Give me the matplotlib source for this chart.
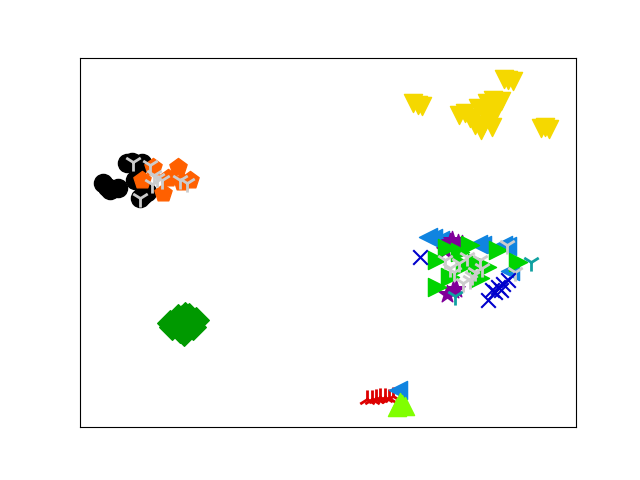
import matplotlib
matplotlib.use('Agg')
import matplotlib.pyplot as plt

# embedded points per class (x, y in 0..100)
yellow_x = [68.1, 67.2, 69.0, 86.3, 85.4, 87.2, 93.8, 93.0, 94.6, 77.6, 78.6, 80.2,
            82.1, 83.3, 81.7, 82.7, 79.6, 83.7, 81.3, 76.5, 84.8, 80.8, 83.0]
yellow_y = [87.3, 87.6, 87.0, 94.0, 94.2, 93.6, 81.3, 81.0, 80.8, 85.1, 83.7, 86.4,
            87.8, 88.6, 84.6, 83.2, 81.8, 85.4, 81.8, 84.6, 88.3, 80.5, 81.2]

black_x = [4.6, 5.5, 6.0, 7.7, 10.5, 9.5, 12.5, 11.8, 11.1, 12.1, 12.8, 13.5]
black_y = [66.1, 65.0, 64.2, 64.8, 71.8, 71.6, 71.5, 71.0, 66.9, 62.1, 62.8, 63.7]

orange_x = [14.7, 19.8, 22.2, 16.7, 12.5, 20.6, 17.7]
orange_y = [70.5, 70.5, 66.9, 63.4, 66.9, 66.4, 67.5]

grey_l_x = [10.7, 14.1, 15.5, 14.5, 16.5, 12.1, 21.6, 20.2, 15.0]
grey_l_y = [71.8, 71.0, 67.5, 65.9, 66.9, 62.1, 66.1, 66.9, 68.2]

dgreen_x = [19.2, 20.6, 22.2, 20.2, 21.4, 23.4, 21.2, 18.1, 19.8, 22.8, 21.0, 18.6, 22.0]
dgreen_y = [27.6, 29.5, 28.5, 26.3, 26.8, 29.0, 30.4, 28.2, 29.8, 27.0, 25.5, 27.0, 30.0]

red_x = [57.9, 58.8, 59.7, 60.5, 61.5, 62.2, 63.1]
red_y = [7.6, 7.5, 7.9, 8.2, 8.1, 7.8, 8.4]

blue_x = [64.1, 70.2, 71.2, 72.6, 80.2, 81.0, 85.3, 86.1, 86.7]
blue_y = [10.0, 51.4, 51.2, 50.7, 49.5, 49.3, 49.3, 49.1, 42.3]

lime_x = [64.5, 63.9, 65.5, 64.9]
lime_y = [6.8, 5.4, 5.7, 6.2]

purple_x = [74.6, 75.0, 76.2, 77.0, 73.6, 75.2, 75.8, 74.0]
purple_y = [50.1, 50.6, 49.9, 49.5, 48.0, 37.1, 37.5, 36.0]

green_x = [74.0, 76.6, 72.0, 77.6, 80.0, 82.1, 74.6, 72.0, 88.3, 84.3, 80.6, 78.6]
green_y = [48.5, 47.4, 45.3, 43.9, 44.4, 43.4, 40.7, 37.9, 44.7, 48.0, 40.4, 49.3]

grey_r_x = [73.6, 74.6, 78.0, 80.6, 78.6, 77.2, 81.0, 86.1, 87.7, 79.6, 76.5, 79.0, 75.5]
grey_r_y = [45.3, 43.1, 46.1, 45.3, 39.8, 39.0, 43.1, 49.3, 42.0, 42.0, 44.5, 41.0, 42.0]

navy_x = [68.5, 82.3, 83.1, 84.3, 85.3, 86.3, 83.7, 84.8]
navy_y = [46.1, 34.4, 37.1, 37.9, 38.8, 39.8, 36.6, 37.0]

teal_x = [90.9, 75.6]
teal_y = [44.7, 35.5]

fig = plt.figure(figsize=(6.4, 4.8), dpi=100)
ax = plt.axes([0.125, 0.11, 0.775, 0.77])

s = 170
ax.scatter(yellow_x, yellow_y, s=s, marker='v', color='#f5d800')
ax.scatter(black_x, black_y, s=s, marker='o', color='black')
ax.scatter(orange_x, orange_y, s=s, marker='p', color='#ff6000')
ax.scatter(grey_l_x, grey_l_y, s=s, marker='1', color='#cccccc', linewidths=2)
ax.scatter(dgreen_x, dgreen_y, s=s, marker='D', color='#009900')
ax.scatter(red_x, red_y, s=s, marker='2', color='#dd0000', linewidths=2)
ax.scatter(blue_x, blue_y, s=s, marker='<', color='#1084e0')
ax.scatter(lime_x, lime_y, s=s, marker='^', color='#80ff00')
ax.scatter(purple_x, purple_y, s=s, marker='*', color='#800099')
ax.scatter(green_x, green_y, s=s, marker='>', color='#00d400')
ax.scatter(grey_r_x, grey_r_y, s=s, marker='1', color='#cccccc', linewidths=2)
ax.scatter(navy_x, navy_y, s=110, marker='x', color='#0000cc', linewidths=1.5)
ax.scatter(teal_x, teal_y, s=s, marker='1', color='#10a0a0', linewidths=2)

ax.set_xlim(0, 100)
ax.set_ylim(0, 100)
ax.set_xticks([])
ax.set_yticks([])

plt.savefig('out.png')
